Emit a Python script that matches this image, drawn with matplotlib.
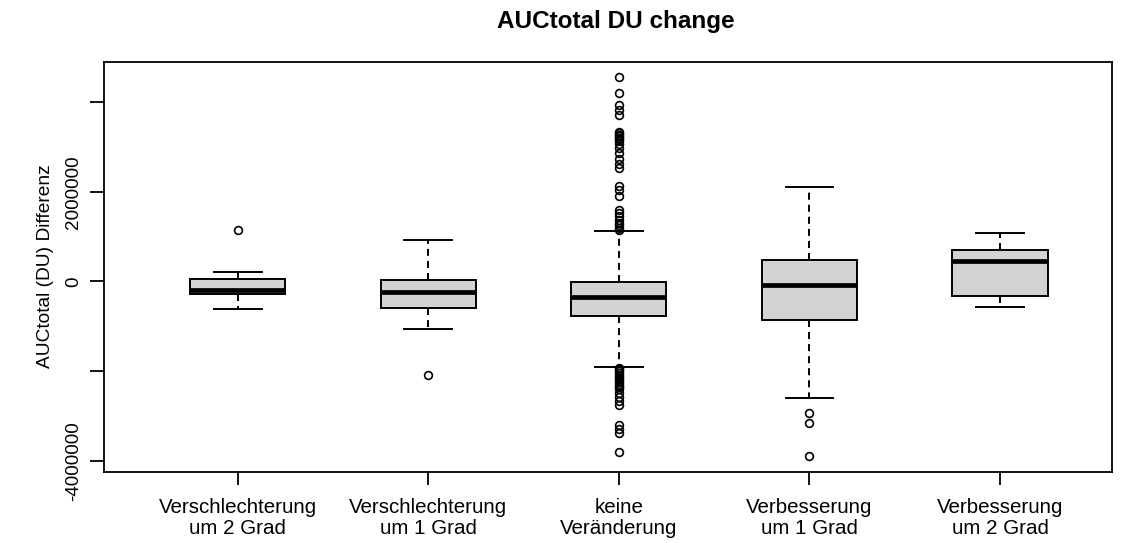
import matplotlib
matplotlib.use("Agg")
import matplotlib.pyplot as plt

plt.rcParams["font.family"] = ["Liberation Sans", "DejaVu Sans"]

# Group labels (x axis)
groups = [
    "Verschlechterung\num 2 Grad",
    "Verschlechterung\num 1 Grad",
    "keine\nVeränderung",
    "Verbesserung\num 1 Grad",
    "Verbesserung\num 2 Grad",
]

# Five-number summaries per group
lower_whisker = [-620000, -1060000, -1900000, -2600000, -560000]
q1 = [-280000, -600000, -760000, -860000, -320000]
medians = [-190000, -240000, -350000, -80000, 460000]
q3 = [55000, 30000, -20000, 480000, 700000]
upper_whisker = [205000, 920000, 1120000, 2110000, 1090000]

# Outlying observations per group
outliers = [
    [1150000],
    [-2090000],
    [4570000, 4200000, 3930000, 3820000, 3710000,
     3330000, 3300000, 3270000, 3240000, 3200000, 3170000, 3130000, 3060000,
     2980000, 2860000, 2740000, 2620000, 2520000,
     2140000, 2030000, 1910000,
     1600000, 1520000, 1450000, 1380000, 1310000, 1250000, 1190000, 1150000,
     -1920000, -1960000, -2000000, -2040000, -2080000, -2120000, -2160000,
     -2200000, -2240000, -2280000, -2320000, -2360000, -2400000,
     -2490000, -2570000, -2660000, -2750000,
     -3200000, -3290000, -3380000, -3800000],
    [-2930000, -3160000, -3880000],
    [],
]

y_ticks = [-4000000, -2000000, 0, 2000000, 4000000]
y_tick_labels = ["-4000000", "", "0", "2000000", ""]

W, H = 1126, 543
fig = plt.figure(figsize=(W / 100, H / 100), dpi=100)
left, right, top, bottom = 104.3, 1112.0, 62.0, 471.7
ax = fig.add_axes([left / W, 1 - bottom / H, (right - left) / W, (bottom - top) / H])

stats = []
for i, name in enumerate(groups):
    stats.append({
        "label": name,
        "whislo": lower_whisker[i],
        "q1": q1[i],
        "med": medians[i],
        "q3": q3[i],
        "whishi": upper_whisker[i],
        "fliers": outliers[i],
    })

positions = list(range(1, len(groups) + 1))
lw = 1.4
ax.bxp(
    stats,
    positions=positions,
    widths=0.5,
    capwidths=0.25,
    patch_artist=True,
    boxprops=dict(facecolor="#d3d3d3", edgecolor="black", linewidth=lw),
    medianprops=dict(color="black", linewidth=3.4, solid_capstyle="butt"),
    whiskerprops=dict(color="black", linewidth=lw, linestyle=(0, (3.6, 2.6))),
    capprops=dict(color="black", linewidth=lw),
    flierprops=dict(marker="o", markersize=5.6, markerfacecolor="none",
                    markeredgecolor="black", markeredgewidth=1.2, linestyle="none"),
)

ax.set_xlim(0.300, 5.588)
ax.set_ylim(-4241000, 4894000)

ax.set_yticks(y_ticks)
ax.set_yticklabels(y_tick_labels, rotation=90, va="center", ha="right", fontsize=13.6)
ax.set_xticks(positions)
ax.set_xticklabels(groups, fontsize=14.8, linespacing=1.15)

ax.tick_params(axis="y", length=10, width=1.3, pad=6, colors="black")
ax.tick_params(axis="x", length=9, width=1.3, pad=10, colors="black")
for s in ax.spines.values():
    s.set_linewidth(1.3)
    s.set_color("black")

fig.text(46 / W, 1 - 266.5 / H, "AUCtotal (DU) Differenz", rotation=90,
         ha="center", va="center", fontsize=13.8)
fig.text(616 / W, 1 - 28.3 / H, "AUCtotal DU change", ha="center", va="baseline",
         fontsize=17.5, fontweight="bold")

fig.savefig("out.png", dpi=100)
